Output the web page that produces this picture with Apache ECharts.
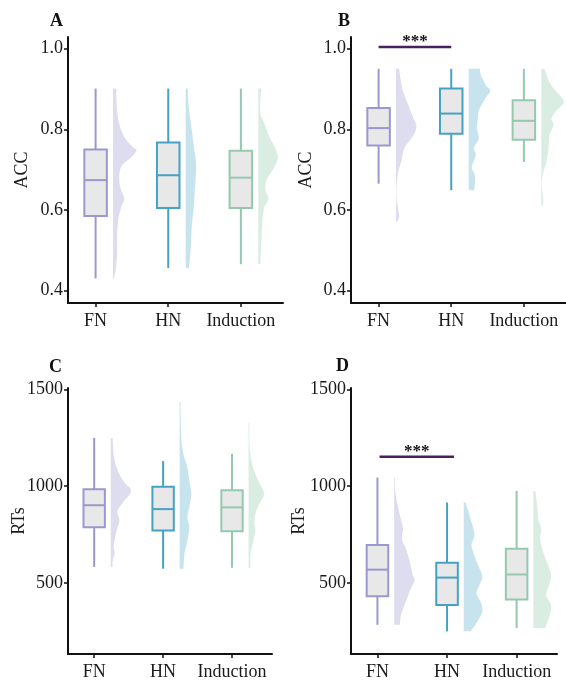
<!DOCTYPE html>
<html>
<head>
<meta charset="utf-8">
<script src="https://cdn.jsdelivr.net/npm/echarts@6/dist/echarts.min.js"></script>
<style>
  html, body { margin: 0; padding: 0; background: #fff; }
  #main { width: 566px; height: 681px; }
</style>
</head>
<body>
<div id="main"></div>
<script>
// groups and tick labels
const categories = ['FN', 'HN', 'Induction'];
const accTicks = [0.4, 0.6, 0.8, 1.0];
const rtTicks = [500, 1000, 1500];

// box stats per group: [lower whisker, Q1, median, Q3, upper whisker]
const accBoxA = [
    [0.430, 0.585, 0.674, 0.750, 0.901],
    [0.456, 0.605, 0.686, 0.767, 0.901],
    [0.465, 0.605, 0.680, 0.747, 0.901]
];
const accBoxB = [
    [0.665, 0.760, 0.803, 0.853, 0.950],
    [0.649, 0.789, 0.839, 0.901, 0.950],
    [0.719, 0.774, 0.821, 0.872, 0.950]
];
const rtBoxC = [
    [582, 787, 901, 984, 1249],
    [573, 770, 881, 997, 1129],
    [578, 767, 890, 978, 1167]
];
const rtBoxD = [
    [283, 431, 568, 696, 1044],
    [249, 385, 527, 604, 915],
    [266, 414, 543, 676, 975]
];

// half-violin density, [value, density] from top to bottom
const accViolinA = [
    [[0.901, 3], [0.847, 4], [0.814, 6], [0.781, 11], [0.756, 19], [0.748, 23], [0.731, 18], [0.707, 8], [0.674, 6], [0.649, 8], [0.628, 11], [0.607, 8], [0.574, 5], [0.533, 4], [0.492, 4], [0.459, 3], [0.430, 1]],
    [[0.901, 2], [0.855, 3], [0.798, 6], [0.756, 8], [0.720, 10], [0.690, 10], [0.655, 9], [0.610, 8], [0.560, 6], [0.508, 5], [0.475, 4], [0.456, 3]],
    [[0.901, 3], [0.872, 2], [0.839, 2], [0.814, 6], [0.781, 11], [0.756, 16], [0.731, 19], [0.707, 16], [0.674, 8], [0.649, 7], [0.628, 10], [0.607, 6], [0.574, 4], [0.525, 3], [0.465, 2]]
];
const accViolinB = [
    [[0.950, 3], [0.917, 5], [0.893, 7], [0.860, 12], [0.827, 17], [0.808, 20], [0.785, 17], [0.752, 8], [0.719, 5], [0.694, 2], [0.669, 1], [0.653, 0.5], [0.628, 0.5], [0.603, 2], [0.583, 3], [0.570, 1]],
    [[0.950, 11], [0.934, 12], [0.909, 17], [0.895, 21], [0.876, 16], [0.847, 10], [0.827, 9], [0.802, 8], [0.778, 10], [0.753, 5], [0.736, 7], [0.705, 3], [0.686, 6], [0.661, 6], [0.649, 5]],
    [[0.950, 3], [0.917, 8], [0.893, 15], [0.868, 22], [0.847, 15], [0.827, 10], [0.810, 12], [0.785, 8], [0.752, 7], [0.719, 5], [0.694, 2], [0.669, 0.5], [0.645, 1], [0.620, 2], [0.607, 0.5]]
];
const rtViolinC = [
    [[1249, 2], [1163, 3], [1095, 6], [1026, 13], [975, 21], [924, 14], [872, 7], [821, 9], [770, 6], [720, 4], [685, 3], [650, 4], [615, 2], [582, 2]],
    [[1436, 1], [1368, 1], [1231, 2], [1163, 4], [1095, 8], [1026, 10], [958, 12], [890, 10], [838, 8], [787, 10], [719, 8], [650, 5], [573, 4]],
    [[1326, 1], [1214, 1], [1129, 3], [1061, 7], [1009, 12], [958, 16], [907, 11], [855, 7], [804, 6], [770, 7], [719, 5], [650, 2], [578, 2]]
];
const rtViolinD = [
    [[1044, 1], [984, 1], [915, 3], [847, 6], [779, 9], [727, 8], [676, 12], [608, 16], [540, 19], [513, 21], [471, 17], [403, 12], [334, 7], [283, 6]],
    [[915, 2], [864, 5], [796, 9], [744, 11], [693, 8], [625, 12], [574, 16], [531, 19], [488, 16], [446, 13], [403, 17], [352, 19], [300, 14], [249, 7]],
    [[975, 2], [898, 4], [830, 5], [779, 8], [727, 7], [659, 10], [591, 15], [540, 18], [488, 16], [437, 13], [386, 18], [334, 17], [266, 12]]
];

// significance bars: [from group, to group, value]
const sigB = [1.0, 2.0, 1.004];
const sigD = [1.03, 2.1, 1151];

const FONT = 'Liberation Serif';
const strokeColors = ['#9b97cf', '#46a2c3', '#94c9ae'];
const violinFills = ['rgba(155,151,207,0.33)', 'rgba(70,162,195,0.3)', 'rgba(148,201,174,0.34)'];
const BOX_W = 0.31;
const VIOLIN_OFFSET = 0.24;
const DENSITY_UNIT = 1 / 71;

const panels = [
    { letter: 'A', pos: [50, 21], grid: { left: 68, top: 37, width: 215, height: 266 }, min: 0.369, max: 1.029,
      ticks: accTicks, name: 'ACC', nameGap: 37, box: accBoxA, violin: accViolinA, fmt: v => v.toFixed(1) },
    { letter: 'B', pos: [338, 21], grid: { left: 351, top: 37, width: 215, height: 266 }, min: 0.369, max: 1.029,
      ticks: accTicks, name: 'ACC', nameGap: 36, box: accBoxB, violin: accViolinB, fmt: v => v.toFixed(1), sig: sigB },
    { letter: 'C', pos: [49, 367], grid: { left: 68, top: 388, width: 204, height: 268 }, min: 132, max: 1507,
      ticks: rtTicks, name: 'RTs', nameGap: 40, box: rtBoxC, violin: rtViolinC, fmt: v => String(v) },
    { letter: 'D', pos: [336, 366], grid: { left: 351, top: 388, width: 206, height: 268 }, min: 132, max: 1507,
      ticks: rtTicks, name: 'RTs', nameGap: 43, box: rtBoxD, violin: rtViolinD, fmt: v => String(v), sig: sigD }
];

function curvePath(pts) {
    let d = '';
    for (let i = 0; i < pts.length - 1; i++) {
        const p0 = pts[i - 1] || pts[i], p1 = pts[i], p2 = pts[i + 1], p3 = pts[i + 2] || pts[i + 1];
        const c1 = [p1[0] + (p2[0] - p0[0]) / 6, p1[1] + (p2[1] - p0[1]) / 6];
        const c2 = [p2[0] - (p3[0] - p1[0]) / 6, p2[1] - (p3[1] - p1[1]) / 6];
        d += ' C' + c1.join(',') + ',' + c2.join(',') + ',' + p2.join(',');
    }
    return d;
}

const axisLine = { show: true, onZero: false, lineStyle: { color: '#111', width: 2 } };
const grid = [], xAxis = [], yAxis = [], series = [], graphic = [];

panels.forEach((p, i) => {
    grid.push(p.grid);
    xAxis.push({
        gridIndex: i, type: 'value', min: 0.62, max: 3.58,
        axisLine: axisLine,
        axisTick: { show: true, customValues: [1, 2, 3], length: 4, lineStyle: { color: '#111', width: 1.5 } },
        axisLabel: { customValues: [1, 2, 3], formatter: v => categories[Math.round(v) - 1],
            fontFamily: FONT, fontSize: 18, color: '#1a1a1a', margin: 9 },
        splitLine: { show: false }
    });
    yAxis.push({
        gridIndex: i, type: 'value', min: p.min, max: p.max,
        name: p.name, nameLocation: 'middle', nameRotate: 90, nameGap: p.nameGap, nameMoveOverlap: false,
        nameTextStyle: { fontFamily: FONT, fontSize: 18, color: '#1a1a1a' },
        axisLine: axisLine,
        axisTick: { show: true, customValues: p.ticks, length: 4, lineStyle: { color: '#111', width: 1.5 } },
        axisLabel: { customValues: p.ticks, formatter: p.fmt, fontFamily: FONT, fontSize: 18, color: '#1a1a1a', margin: 5 },
        splitLine: { show: false }
    });

    // half violins
    series.push({
        type: 'custom', xAxisIndex: i, yAxisIndex: i, silent: true, z: 1,
        data: categories.map((c, g) => [g + 1, g]),
        renderItem: (params, api) => {
            const g = api.value(1);
            const base = api.value(0) + VIOLIN_OFFSET;
            const prof = p.violin[g];
            const pts = prof.map(d => api.coord([base + d[1] * DENSITY_UNIT, d[0]]));
            const top = api.coord([base, prof[0][0]]);
            const bot = api.coord([base, prof[prof.length - 1][0]]);
            const path = 'M' + top.join(',') + ' L' + pts[0].join(',') + curvePath(pts) +
                ' L' + bot.join(',') + ' Z';
            return { type: 'path', shape: { pathData: path }, style: { fill: violinFills[g], stroke: null } };
        }
    });

    // boxes
    series.push({
        type: 'custom', xAxisIndex: i, yAxisIndex: i, silent: true, z: 2,
        data: p.box.map((b, g) => [g + 1].concat(b, [g])),
        renderItem: (params, api) => {
            const x = api.value(0);
            const color = strokeColors[api.value(6)];
            const lo = api.coord([x, api.value(1)]);
            const q1 = api.coord([x, api.value(2)]);
            const md = api.coord([x, api.value(3)]);
            const q3 = api.coord([x, api.value(4)]);
            const hi = api.coord([x, api.value(5)]);
            const half = api.size([BOX_W, 0])[0] / 2;
            const ls = { stroke: color, lineWidth: 2 };
            return { type: 'group', children: [
                { type: 'line', shape: { x1: hi[0], y1: hi[1], x2: q3[0], y2: q3[1] }, style: ls },
                { type: 'line', shape: { x1: q1[0], y1: q1[1], x2: lo[0], y2: lo[1] }, style: ls },
                { type: 'rect', shape: { x: q3[0] - half, y: q3[1], width: half * 2, height: q1[1] - q3[1] },
                  style: { fill: '#e8e8e8', stroke: color, lineWidth: 2 } },
                { type: 'line', shape: { x1: md[0] - half, y1: md[1], x2: md[0] + half, y2: md[1] }, style: ls }
            ] };
        }
    });

    if (p.sig) {
        series.push({
            type: 'custom', xAxisIndex: i, yAxisIndex: i, silent: true, z: 3,
            data: [p.sig],
            renderItem: (params, api) => {
                const a = api.coord([api.value(0), api.value(2)]);
                const b = api.coord([api.value(1), api.value(2)]);
                return { type: 'group', children: [
                    { type: 'line', shape: { x1: a[0], y1: a[1], x2: b[0], y2: b[1] },
                      style: { stroke: '#4b1f5e', lineWidth: 2.5 } },
                    { type: 'text', x: (a[0] + b[0]) / 2, y: a[1] - 5,
                      style: { text: '***', font: 'bold 17px "Liberation Serif"', fill: '#111',
                               textAlign: 'center', textVerticalAlign: 'middle' } }
                ] };
            }
        });
    }

    graphic.push({
        type: 'text', x: p.pos[0], y: p.pos[1],
        style: { text: p.letter, font: 'bold 18px "Liberation Serif"', fill: '#111', textVerticalAlign: 'middle' }
    });
});

const chart = echarts.init(document.getElementById('main'));
chart.setOption({
    animation: false,
    backgroundColor: '#fff',
    grid: grid,
    xAxis: xAxis,
    yAxis: yAxis,
    series: series,
    graphic: graphic
});
</script>
</body>
</html>
